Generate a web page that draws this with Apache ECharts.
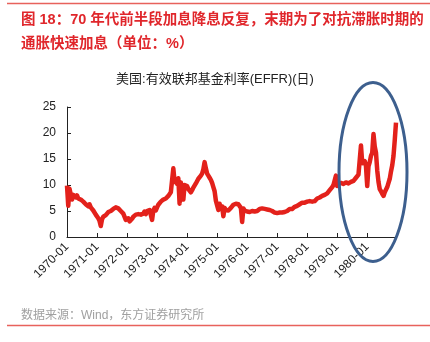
<!DOCTYPE html>
<html>
<head>
<meta charset="utf-8">
<script src="https://cdn.jsdelivr.net/npm/echarts@6/dist/echarts.min.js"></script>
<style>
html,body{margin:0;padding:0;background:#fff;}
#c{width:430px;height:342px;}
</style>
</head>
<body>
<div id="c"></div>
<script>
// Semi-monthly readings (1st and 16th of each month), percent
const y1970 = [9.9, 6.0, 9.3, 8.2, 7.2, 8.1, 8.3, 7.6, 8.0, 7.4, 7.7, 7.2, 7.4, 6.8, 6.8, 6.3, 6.4, 5.9, 6.3, 5.7, 5.7, 5.1, 5.0, 4.3];
const y1971 = [4.3, 3.6, 3.1, 2.1, 3.4, 3.9, 3.6, 4.2, 4.3, 4.8, 4.6, 5.0, 5.0, 5.4, 5.4, 5.7, 5.6, 5.5, 5.3, 5.0, 4.9, 4.5, 4.2, 3.3];
const y1972 = [3.2, 3.6, 3.0, 3.3, 3.5, 3.9, 4.1, 4.3, 4.1, 4.4, 4.6, 4.3, 4.6, 4.5, 4.9, 4.4, 5.0, 4.8, 5.2, 5.0, 3.3, 5.1, 5.6, 5.1];
const y1973 = [5.7, 6.2, 6.4, 6.8, 6.7, 7.2, 7.0, 7.4, 7.4, 7.9, 8.0, 8.6, 8.8, 13.2, 10.6, 11.0, 10.2, 11.3, 6.4, 10.5, 10.2, 7.2, 10.0, 9.7];
const y1974 = [9.8, 9.2, 9.1, 8.6, 9.0, 9.5, 9.8, 10.3, 10.6, 11.2, 11.1, 11.8, 12.2, 13.0, 14.4, 13.2, 12.2, 11.8, 11.4, 11.0, 10.4, 9.6, 8.8, 7.0];
const y1975 = [6.8, 5.2, 6.4, 5.4, 5.9, 4.0, 5.6, 5.2, 5.5, 5.1, 5.3, 5.6, 5.9, 6.2, 6.1, 6.4, 6.1, 6.3, 6.0, 5.6, 2.9, 5.5, 5.1, 5.2];
const y1976 = [4.9, 4.6, 4.8, 4.7, 5.0, 4.7, 4.9, 4.7, 5.0, 5.3, 5.4, 5.6, 5.5, 5.3, 5.4, 5.2, 5.3, 5.1, 5.2, 4.9, 5.0, 4.8, 4.7, 4.5];
const y1977 = [4.6, 4.4, 4.7, 4.5, 4.7, 4.6, 4.8, 4.7, 5.0, 5.3, 5.4, 5.2, 5.4, 5.5, 5.8, 5.7, 6.0, 6.2, 6.3, 6.5, 6.6, 6.4, 6.6, 6.7];
const y1978 = [6.8, 6.6, 6.9, 6.7, 6.8, 7.0, 6.9, 7.2, 7.4, 7.3, 7.6, 7.8, 7.9, 7.7, 8.1, 8.0, 8.4, 8.5, 9.0, 8.8, 9.6, 10.0, 10.2, 11.8];
const y1979 = [9.8, 10.3, 10.0, 10.4, 10.1, 10.2, 10.0, 10.5, 10.2, 10.3, 10.4, 10.6, 10.5, 10.8, 11.0, 11.4, 11.2, 12.0, 11.8, 17.6, 14.2, 14.0, 14.6, 13.6];
const y1980 = [9.8, 13.6, 14.4, 15.6, 16.2, 19.8, 17.4, 16.2, 12.8, 10.6, 9.2, 8.8, 8.3, 7.9, 8.6, 8.9, 9.6, 10.4, 11.2, 12.6, 13.8, 15.6, 18.6, 22.0];

const years = [1970, 1971, 1972, 1973, 1974, 1975, 1976, 1977, 1978, 1979, 1980];
const yearValues = [y1970, y1971, y1972, y1973, y1974, y1975, y1976, y1977, y1978, y1979, y1980];
const days = ['01', '16'];
const yTicks = [0, 5, 10, 15, 20, 25];

const titleText = '图 18：70 年代前半段加息降息反复，末期为了对抗滞胀时期的\n通胀快速加息（单位：%）';
const chartTitle = '美国:有效联邦基金利率(EFFR)(日)';
const sourceText = '数据来源：Wind，东方证券研究所';

const categories = [];
const values = [];
years.forEach((yr, i) => {
  for (let m = 1; m <= 12; m++) {
    for (let d = 0; d < 2; d++) {
      categories.push(yr + '-' + String(m).padStart(2, '0') + '-' + days[d]);
      values.push(yearValues[i][(m - 1) * 2 + d]);
    }
  }
});

const FONT = '"Liberation Sans", "Noto Sans CJK SC", sans-serif';
const isYearStart = (idx, val) => /-01-01$/.test(val);

const chart = echarts.init(document.getElementById('c'), null, {renderer: 'canvas'});
chart.setOption({
  animation: false,
  backgroundColor: '#ffffff',
  title: [
    {
      text: titleText,
      left: 16, top: 3,
      textStyle: {color: '#e0262b', fontSize: 14.5, fontWeight: 'bold', fontFamily: FONT, lineHeight: 24}
    },
    {
      text: chartTitle,
      left: 'center', top: 68,
      textStyle: {color: '#222', fontSize: 13, fontWeight: 'normal', fontFamily: FONT}
    },
    {
      text: sourceText,
      left: 16, top: 305,
      textStyle: {color: '#a0a0a0', fontSize: 12, fontWeight: 'normal', fontFamily: FONT}
    }
  ],
  grid: {left: 67, right: 34, top: 107, bottom: 105, containLabel: false},
  xAxis: {
    type: 'category',
    data: categories,
    boundaryGap: false,
    axisLine: {lineStyle: {color: '#222', width: 1}},
    axisTick: {show: true, inside: true, length: 4, interval: isYearStart, lineStyle: {color: '#222'}},
    axisLabel: {
      interval: isYearStart,
      rotate: 45,
      margin: 8,
      fontSize: 12,
      color: '#222',
      fontFamily: FONT,
      formatter: v => v.slice(0, 7)
    },
    splitLine: {show: false}
  },
  yAxis: {
    type: 'value',
    min: yTicks[0], max: yTicks[yTicks.length - 1], interval: 5,
    axisLine: {show: true, lineStyle: {color: '#222', width: 1}},
    axisTick: {show: true, inside: true, length: 4, lineStyle: {color: '#222'}},
    axisLabel: {fontSize: 12, color: '#222', fontFamily: FONT, margin: 11},
    splitLine: {show: false}
  },
  series: [{
    type: 'line',
    data: values,
    symbol: 'none',
    lineStyle: {color: '#e3211b', width: 4.5, join: 'round'},
    itemStyle: {color: '#e3211b'}
  }],
  graphic: [
    {type: 'line', shape: {x1: 7, y1: 3.5, x2: 430, y2: 3.5}, style: {stroke: '#e8625c', lineWidth: 1.5}},
    {type: 'line', shape: {x1: 7, y1: 325.5, x2: 430, y2: 325.5}, style: {stroke: '#e8625c', lineWidth: 1.5}},
    {type: 'ellipse', shape: {cx: 373, cy: 172, rx: 34, ry: 89.5}, style: {fill: 'none', stroke: '#3d5f8e', lineWidth: 3}, z: 100}
  ]
});
</script>
</body>
</html>
